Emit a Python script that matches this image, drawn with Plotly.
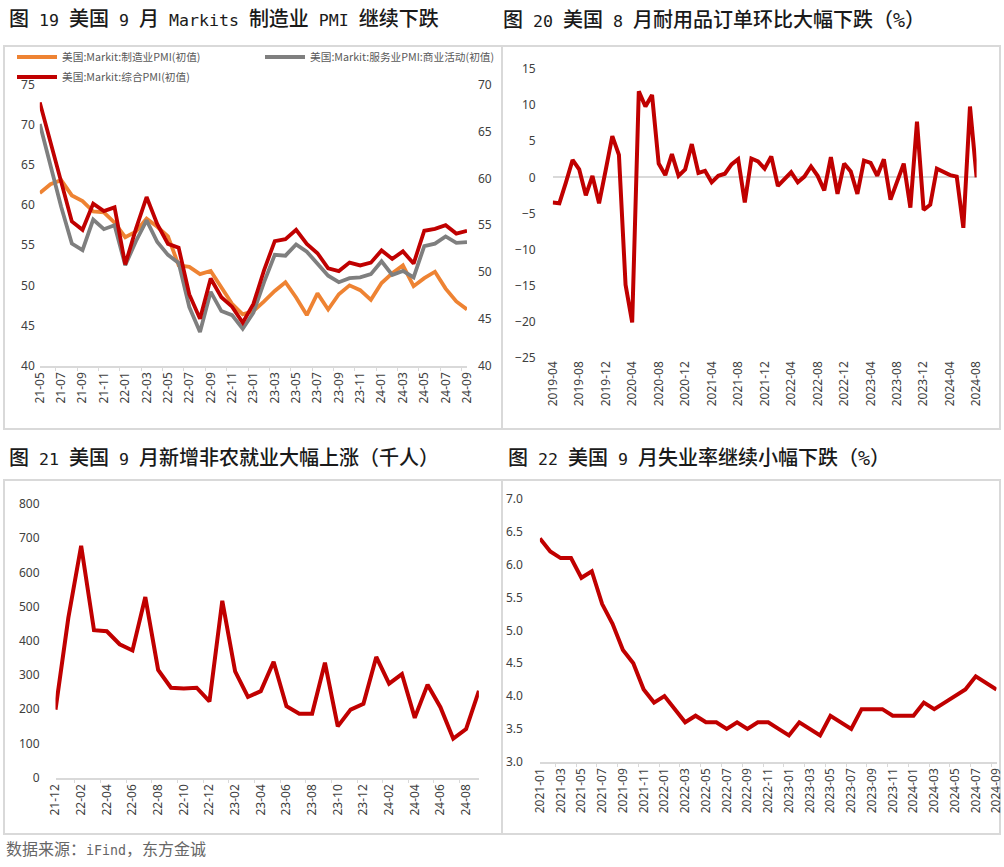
import re
import plotly.graph_objects as go

W, H = 1004, 867

# ---- 图19 Markit PMI (初值) ----
pmi_months = ['21-05', '21-06', '21-07', '21-08', '21-09', '21-10', '21-11', '21-12',
              '22-01', '22-02', '22-03', '22-04', '22-05', '22-06', '22-07', '22-08',
              '22-09', '22-10', '22-11', '22-12', '23-01', '23-02', '23-03', '23-04',
              '23-05', '23-06', '23-07', '23-08', '23-09', '23-10', '23-11', '23-12',
              '24-01', '24-02', '24-03', '24-04', '24-05', '24-06', '24-07', '24-08', '24-09']
pmi_mfg = [61.5, 62.6, 63.1, 61.2, 60.5, 59.2, 59.1, 57.8,
           56.0, 56.7, 58.3, 57.3, 56.1, 52.5, 52.3, 51.4, 51.8, 49.8, 47.7, 46.4,
           46.8, 48.0, 49.3, 50.4, 48.5, 46.3, 49.0, 47.0, 48.9, 50.0, 49.4, 48.2,
           50.3, 51.5, 52.5, 49.9, 50.9, 51.7, 49.6, 48.0, 47.0]
pmi_svc = [70.1, 64.8, 59.8, 55.2, 54.4, 58.2, 57.0, 57.5,
           52.5, 55.5, 58.1, 55.4, 53.8, 52.8, 47.3, 44.2, 49.2, 46.8, 46.3, 44.6,
           46.6, 50.4, 53.8, 53.7, 55.1, 54.2, 52.7, 51.2, 50.4, 50.9, 51.0, 51.4,
           53.0, 51.3, 51.8, 51.0, 54.9, 55.2, 56.1, 55.3, 55.4]
pmi_comp = [68.1, 63.9, 59.7, 55.4, 54.5, 57.3, 56.5, 56.9,
            50.8, 54.6, 58.0, 55.1, 53.0, 52.6, 47.6, 45.0, 49.3, 47.3, 46.3, 44.6,
            46.6, 50.2, 53.3, 53.5, 54.5, 53.0, 52.0, 50.4, 50.1, 51.0, 50.7, 51.0,
            52.3, 51.4, 52.2, 50.9, 54.4, 54.6, 55.0, 54.1, 54.4]

# ---- 图20 耐用品订单环比 (%) ----
dg_months = ['2019-04', '2019-05', '2019-06', '2019-07', '2019-08', '2019-09', '2019-10', '2019-11', '2019-12',
             '2020-01', '2020-02', '2020-03', '2020-04', '2020-05', '2020-06', '2020-07', '2020-08', '2020-09',
             '2020-10', '2020-11', '2020-12', '2021-01', '2021-02', '2021-03', '2021-04', '2021-05', '2021-06',
             '2021-07', '2021-08', '2021-09', '2021-10', '2021-11', '2021-12', '2022-01', '2022-02', '2022-03',
             '2022-04', '2022-05', '2022-06', '2022-07', '2022-08', '2022-09', '2022-10', '2022-11', '2022-12',
             '2023-01', '2023-02', '2023-03', '2023-04', '2023-05', '2023-06', '2023-07', '2023-08', '2023-09',
             '2023-10', '2023-11', '2023-12', '2024-01', '2024-02', '2024-03', '2024-04', '2024-05', '2024-06',
             '2024-07', '2024-08']
dg_mom = [-3.5, -3.6, -0.7, 2.4, 1.1, -2.5, 0.2, -3.6, 1.0,
          5.7, 3.1, -14.9, -20.1, 11.9, 9.8, 11.4, 1.9, 0.3,
          3.2, 0.2, 1.1, 4.6, 0.6, 0.9, -0.7, 0.2, 0.5,
          1.8, 2.5, -3.5, 2.6, 2.2, 1.2, 2.9, -1.2, -0.3,
          0.7, -0.7, 0.1, 1.5, 0.2, -1.8, 2.8, -2.3, 1.9,
          0.8, -2.3, 2.3, 2.0, 0.2, 2.5, -3.1, -0.6, 1.9,
          -4.2, 7.7, -4.5, -3.8, 1.2, 0.8, 0.3, 0.1, -7.0,
          9.8, 0.0]

# ---- 图21 新增非农就业 (千人) ----
nfp_months = ['21-12', '22-01', '22-02', '22-03', '22-04', '22-05', '22-06', '22-07', '22-08',
              '22-09', '22-10', '22-11', '22-12', '23-01', '23-02', '23-03', '23-04', '23-05',
              '23-06', '23-07', '23-08', '23-09', '23-10', '23-11', '23-12', '24-01', '24-02',
              '24-03', '24-04', '24-05', '24-06', '24-07', '24-08', '24-09']
nfp = [199, 467, 678, 431, 428, 390, 372, 528, 315,
       263, 261, 263, 223, 517, 311, 236, 253, 339,
       209, 187, 187, 336, 150, 199, 216, 353, 275,
       303, 175, 272, 206, 114, 142, 254]

# ---- 图22 失业率 (%) ----
ur_months = ['2021-01', '2021-02', '2021-03', '2021-04', '2021-05', '2021-06', '2021-07', '2021-08', '2021-09',
             '2021-10', '2021-11', '2021-12', '2022-01', '2022-02', '2022-03', '2022-04', '2022-05', '2022-06',
             '2022-07', '2022-08', '2022-09', '2022-10', '2022-11', '2022-12', '2023-01', '2023-02', '2023-03',
             '2023-04', '2023-05', '2023-06', '2023-07', '2023-08', '2023-09', '2023-10', '2023-11', '2023-12',
             '2024-01', '2024-02', '2024-03', '2024-04', '2024-05', '2024-06', '2024-07', '2024-08', '2024-09']
ur = [6.4, 6.2, 6.1, 6.1, 5.8, 5.9, 5.4, 5.1, 4.7,
      4.5, 4.1, 3.9, 4.0, 3.8, 3.6, 3.7, 3.6, 3.6,
      3.5, 3.6, 3.5, 3.6, 3.6, 3.5, 3.4, 3.6, 3.5,
      3.4, 3.7, 3.6, 3.5, 3.8, 3.8, 3.8, 3.7, 3.7,
      3.7, 3.9, 3.8, 3.9, 4.0, 4.1, 4.3, 4.2, 4.1]

titles = ['图 19 美国 9 月 Markits 制造业 PMI 继续下跌',
          '图 20 美国 8 月耐用品订单环比大幅下跌（%）',
          '图 21 美国 9 月新增非农就业大幅上涨（千人）',
          '图 22 美国 9 月失业率继续小幅下跌（%）']
source = '数据来源：iFind，东方金诚'
legend_names = ['美国:Markit:制造业PMI(初值)', '美国:Markit:服务业PMI:商业活动(初值)', '美国:Markit:综合PMI(初值)']

RED = '#C00000'
ORANGE = '#EE8333'
GRAY = '#7F7F7F'
FRAME = '#D9D9D9'
TICK = '#404040'
TITLE_FONT = 'DejaVu Sans Mono, Noto Sans CJK SC'
TICK_FONT = dict(family='Noto Sans, Noto Sans CJK SC', size=12, color=TICK)


def px(x):
    return x / W


def py(y):
    return 1 - y / H


def half_width(text, size):
    # latin runs in a monospace face at half the CJK advance, like SimHei
    return re.sub(r'([ -$&-~]+)', lambda m: '<span style="font-size:%.1fpx">%s</span>' % (size * 0.83, m.group(1)), text)


fig = go.Figure()

fig.add_trace(go.Scatter(x=pmi_months, y=pmi_mfg, name=legend_names[0], mode='lines',
                         line=dict(color=ORANGE, width=3.8), xaxis='x', yaxis='y', legend='legend'))
fig.add_trace(go.Scatter(x=pmi_months, y=pmi_svc, name=legend_names[1], mode='lines',
                         line=dict(color=GRAY, width=3.8), xaxis='x', yaxis='y', legend='legend2'))
fig.add_trace(go.Scatter(x=pmi_months, y=pmi_comp, name=legend_names[2], mode='lines',
                         line=dict(color=RED, width=3.8), xaxis='x', yaxis='y2', legend='legend3'))
fig.add_trace(go.Scatter(x=dg_months, y=dg_mom, mode='lines', showlegend=False,
                         line=dict(color=RED, width=4), xaxis='x2', yaxis='y3'))
fig.add_trace(go.Scatter(x=nfp_months, y=nfp, mode='lines', showlegend=False,
                         line=dict(color=RED, width=4), xaxis='x3', yaxis='y4'))
fig.add_trace(go.Scatter(x=ur_months, y=ur, mode='lines', showlegend=False,
                         line=dict(color=RED, width=4), xaxis='x4', yaxis='y5'))

xcommon = dict(type='category', tickangle=-90, tickfont=TICK_FONT, showgrid=False, zeroline=False,
               tickmode='linear', tick0=0, ticks='outside', ticklen=4, tickcolor=FRAME,
               tickson='boundaries', fixedrange=True, automargin=False)
ycommon = dict(tickfont=TICK_FONT, showgrid=False, zeroline=False, showline=False, ticks='',
               fixedrange=True, automargin=False)

fig.update_layout(
    width=W, height=H,
    margin=dict(l=0, r=0, t=0, b=0, autoexpand=False),
    paper_bgcolor='white', plot_bgcolor='white',
    xaxis=dict(xcommon, domain=[px(39.8), px(467)], anchor='y', dtick=2,
               showline=True, linecolor=FRAME, linewidth=1.5),
    yaxis=dict(ycommon, domain=[py(365.7), py(84.6)], anchor='x', range=[40, 75], dtick=5,
               ticklabelstandoff=4),
    yaxis2=dict(ycommon, overlaying='y', side='right', anchor='x', range=[40, 70], dtick=5,
                ticklabelstandoff=10),
    xaxis2=dict(xcommon, domain=[px(552.7), px(976.6)], anchor='y3', dtick=4, showline=False,
                ticks=''),
    yaxis3=dict(ycommon, domain=[py(357.8), py(69)], anchor='x2', range=[-25, 15], dtick=5,
                zeroline=True, zerolinecolor=FRAME, zerolinewidth=1.5, ticklabelstandoff=16),
    xaxis3=dict(xcommon, domain=[px(55.5), px(478.9)], anchor='y4', dtick=2,
                showline=True, linecolor=FRAME, linewidth=1.5),
    yaxis4=dict(ycommon, domain=[py(777.7), py(504)], anchor='x3', range=[0, 800], dtick=100,
                ticklabelstandoff=15),
    xaxis4=dict(xcommon, domain=[px(539.9), px(996.5)], anchor='y5', dtick=2,
                showline=True, linecolor=FRAME, linewidth=1.5),
    yaxis5=dict(ycommon, domain=[py(761.7), py(499)], anchor='x4', range=[3, 7], dtick=0.5,
                tickformat='.1f', ticklabelstandoff=16),
)

legend_font = dict(family='Noto Sans CJK SC', size=10.7, color='#595959')
for key, lx, ly in [('legend', 12, 57), ('legend2', 260, 57), ('legend3', 12, 77)]:
    fig.update_layout({key: dict(x=px(lx), y=py(ly), xanchor='left', yanchor='middle',
                                 bgcolor='rgba(0,0,0,0)', font=legend_font, itemwidth=40,
                                 itemclick=False, itemdoubleclick=False)})

# panel frames
for x0, y0, x1, y1 in [(4, 46, 502, 429), (502, 46, 1000, 429),
                       (4, 480, 502, 834), (502, 480, 1000, 834)]:
    fig.add_shape(type='rect', xref='paper', yref='paper',
                  x0=px(x0), y0=py(y0), x1=px(x1), y1=py(y1),
                  line=dict(color=FRAME, width=2), layer='below')

# titles and source
for text, tx, ty in [(titles[0], 7, 19), (titles[1], 501, 20), (titles[2], 7, 458), (titles[3], 506, 458)]:
    fig.add_annotation(text=half_width(text, 20), x=px(tx), y=py(ty), xref='paper', yref='paper',
                       xanchor='left', yanchor='middle', showarrow=False,
                       font=dict(family=TITLE_FONT, size=20, color='#1a1a1a', weight=500))
fig.add_annotation(text=half_width(source, 16), x=px(4), y=py(849), xref='paper', yref='paper',
                   xanchor='left', yanchor='middle', showarrow=False,
                   font=dict(family=TITLE_FONT, size=16, color='#666666'))

# page body margin would offset the fixed-size figure
fig.write_html("out.html", config={'displayModeBar': False},
               post_script="document.body.style.margin='0';")
